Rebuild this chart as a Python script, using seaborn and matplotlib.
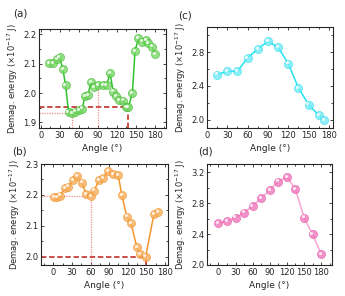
import numpy as np
import pandas as pd
import seaborn as sns
import matplotlib.pyplot as plt
from matplotlib.ticker import MultipleLocator
from matplotlib.transforms import ScaledTranslation

# Panel (a)
angle_a = [13.6, 19.9, 25.8, 29.5, 34.8, 39.0, 43.9, 49.1, 54.5, 60.3, 65.7,
           69.4, 74.7, 79.0, 84.3, 90.6, 98.6, 104.0, 109.3, 114.5, 118.8,
           124.0, 130.5, 134.3, 138.5, 144.8, 149.0, 154.4, 160.8, 166.2,
           169.6, 175.7, 181.0]
energy_a = [2.102, 2.102, 2.115, 2.121, 2.081, 2.028, 1.934, 1.933, 1.937,
            1.943, 1.947, 1.989, 1.994, 2.036, 2.019, 2.026, 2.028, 2.026,
            2.068, 2.005, 1.989, 1.977, 1.974, 1.951, 1.952, 2.000, 2.143,
            2.186, 2.175, 2.181, 2.169, 2.158, 2.133]

# Panel (b)
angle_b = [1.0, 6.5, 10.8, 18.9, 24.2, 32.3, 37.7, 45.8, 52.7, 60.3, 65.6,
           74.2, 80.6, 88.7, 96.8, 104.8, 110.3, 118.4, 125.3, 134.5, 139.8,
           149.0, 162.4, 169.4]
energy_b = [2.192, 2.192, 2.198, 2.222, 2.227, 2.249, 2.262, 2.240, 2.203,
            2.195, 2.214, 2.249, 2.254, 2.278, 2.267, 2.263, 2.200, 2.130,
            2.108, 2.032, 2.009, 2.000, 2.139, 2.144]

# Panel (c)
angle_c = [15, 30, 45, 60, 75, 90, 105, 120, 135, 150, 165, 173]
energy_c = [2.534, 2.574, 2.574, 2.733, 2.840, 2.930, 2.859, 2.665, 2.376,
            2.178, 2.051, 1.992]

# Panel (d)
angle_d = [0, 15, 30, 45, 60, 75, 90, 105, 120, 135, 150, 165, 180]
energy_d = [2.541, 2.571, 2.614, 2.680, 2.766, 2.866, 2.974, 3.082, 3.143,
            2.983, 2.614, 2.398, 2.143]

# guide lines: (index of data point, style)
guides_a = [(24, 'dash'), (7, 'dot'), (15, 'vdot')]
guides_b = [(9, 'dot'), (21, 'dash')]

sns.set_style("ticks")
plt.rcParams['font.family'] = ['DejaVu Sans']
plt.rcParams['axes.linewidth'] = 0.8

fig = plt.figure(figsize=(3.45, 2.96), dpi=100)
W, H = 345, 296


def px_axes(l, t, r, b):
    return fig.add_axes([l / W, 1 - b / H, (r - l) / W, (b - t) / H])


panels = [
    dict(ax=px_axes(39, 29, 166, 128), x=angle_a, y=energy_a, line='#2fc42f',
         fill='#78d866', edge='#48b838', xlim=(-3, 198), ylim=(1.881, 2.218),
         ymaj=0.1, ymin=0.05, label='(a)', lab=(13, 13), guides=guides_a),
    dict(ax=px_axes(41, 164, 168, 265), x=angle_b, y=energy_b, line='#f5962a',
         fill='#f8ae5a', edge='#ec9636', xlim=(-20, 185), ylim=(1.973, 2.3),
         ymaj=0.1, ymin=0.05, label='(b)', lab=(12, 152), guides=guides_b),
    dict(ax=px_axes(207, 27, 333, 128), x=angle_c, y=energy_c, line='#22e2f0',
         fill='#72ecf6', edge='#34dcec', xlim=(0, 186), ylim=(1.9, 3.1),
         ymaj=0.4, ymin=0.2, label='(c)', lab=(178, 15), guides=[]),
    dict(ax=px_axes(207, 164, 332, 265), x=angle_d, y=energy_d, line='#f7a6d2',
         fill='#f078bd', edge='#e65aa8', xlim=(-20, 199), ylim=(2.0, 3.31),
         ymaj=0.4, ymin=0.2, label='(d)', lab=(198, 152), guides=[]),
]

for p in panels:
    ax = p['ax']
    df = pd.DataFrame({'angle': p['x'], 'energy': p['y']})
    ax.set_xlim(*p['xlim'])
    ax.set_ylim(*p['ylim'])

    # guide lines from selected data points down to the axes
    for idx, kind in p['guides']:
        gx, gy = p['x'][idx], p['y'][idx]
        if kind == 'dash':
            col, ls, lw = '#c8403c', (0, (3, 1.5)), 1.3
        else:
            col, ls, lw = '#f08c8c', (0, (1, 1)), 0.9
        if kind != 'vdot':
            ax.plot([p['xlim'][0], gx], [gy, gy], color=col, ls=ls, lw=lw, zorder=1)
        ax.plot([gx, gx], [p['ylim'][0], gy], color=col, ls=ls, lw=lw, zorder=1)

    sns.lineplot(data=df, x='angle', y='energy', ax=ax, color=p['line'],
                 lw=1.1, zorder=2, estimator=None, sort=False)
    sns.scatterplot(data=df, x='angle', y='energy', ax=ax, s=34,
                    color=p['fill'], edgecolor=p['edge'], linewidth=0.5,
                    alpha=0.8, zorder=3)
    # small highlight on each bead
    shift = ax.transData + ScaledTranslation(-1.2 / 100, 1.2 / 100, fig.dpi_scale_trans)
    ax.scatter(df['angle'], df['energy'], s=5, color='white', alpha=0.8,
               linewidths=0, zorder=4, transform=shift)

    ax.set_xticks(list(range(0, 181, 30)))
    ax.xaxis.set_minor_locator(MultipleLocator(15))
    ax.yaxis.set_major_locator(MultipleLocator(p['ymaj']))
    ax.yaxis.set_minor_locator(MultipleLocator(p['ymin']))
    ax.tick_params(which='both', direction='in', top=True, right=True,
                   labelsize=6, pad=2, width=0.6)
    ax.tick_params(which='major', length=2.5)
    ax.tick_params(which='minor', length=1.5)
    ax.yaxis.set_major_formatter(plt.FormatStrFormatter('%.1f'))
    ax.set_xlabel('Angle (°)', fontsize=6.5, labelpad=3)
    ax.set_ylabel('Demag. energy (×10$^{-17}$ J)', fontsize=6, labelpad=2)
    for s in ax.spines.values():
        s.set_visible(True)
    fig.text(p['lab'][0] / W, 1 - p['lab'][1] / H, p['label'], fontsize=7.5,
             ha='left', va='center')

fig.savefig('out.png', dpi=100)
